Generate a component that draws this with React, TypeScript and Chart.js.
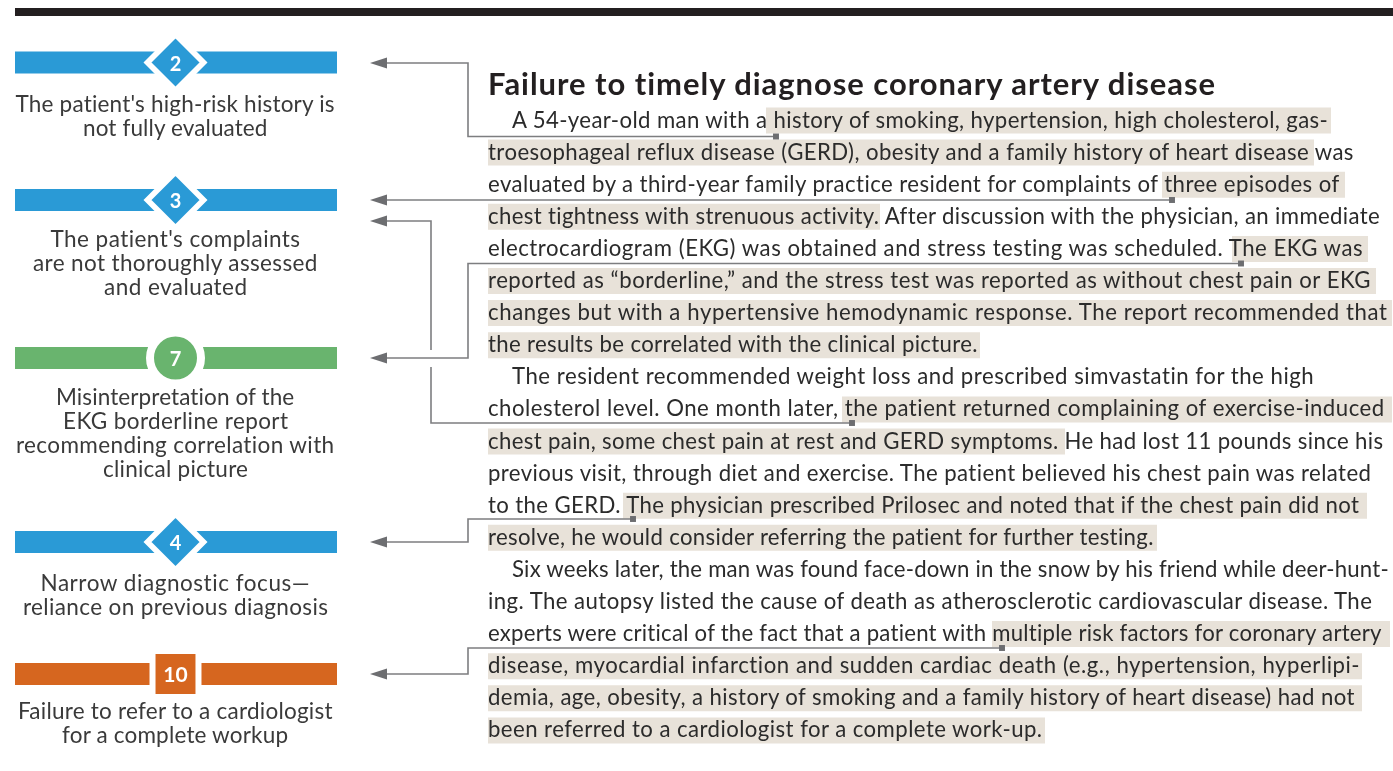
import React, { useEffect, useRef } from 'react';
import { Chart, registerables } from 'chart.js';

Chart.register(...registerables);

const W = 1393;
const H = 771;

// ---------- data ----------
const badgeNumbers = ['2', '3', '7', '4', '10'];
const badgeShapes = ['rectRot', 'rectRot', 'circle', 'rectRot', 'rect'];
const badgeColors = ['#2a9ad6', '#2a9ad6', '#69b46e', '#2a9ad6', '#d6661f'];
const badgeRows = [62.5, 200, 358, 542, 674];
const badgeLabels = [
  ["The patient's high-risk history is", 'not fully evaluated'],
  ["The patient's complaints", 'are not thoroughly assessed', 'and evaluated'],
  ['Misinterpretation of the', 'EKG borderline report', 'recommending correlation with', 'clinical picture'],
  ['Narrow diagnostic focus\u2014', 'reliance on previous diagnosis'],
  ['Failure to refer to a cardiologist', 'for a complete workup'],
];

const title = 'Failure to timely diagnose coronary artery disease';
const bodyLines = [
  'A 54-year-old man with a history of smoking, hypertension, high cholesterol, gas-',
  'troesophageal reflux disease (GERD), obesity and a family history of heart disease was',
  'evaluated by a third-year family practice resident for complaints of three episodes of',
  'chest tightness with strenuous activity. After discussion with the physician, an immediate',
  'electrocardiogram (EKG) was obtained and stress testing was scheduled. The EKG was',
  'reported as \u201cborderline,\u201d and the stress test was reported as without chest pain or EKG',
  'changes but with a hypertensive hemodynamic response. The report recommended that',
  'the results be correlated with the clinical picture.',
  'The resident recommended weight loss and prescribed simvastatin for the high',
  'cholesterol level. One month later, the patient returned complaining of exercise-induced',
  'chest pain, some chest pain at rest and GERD symptoms. He had lost 11 pounds since his',
  'previous visit, through diet and exercise. The patient believed his chest pain was related',
  'to the GERD. The physician prescribed Prilosec and noted that if the chest pain did not',
  'resolve, he would consider referring the patient for further testing.',
  'Six weeks later, the man was found face-down in the snow by his friend while deer-hunt-',
  'ing. The autopsy listed the cause of death as atherosclerotic cardiovascular disease. The',
  'experts were critical of the fact that a patient with multiple risk factors for coronary artery',
  'disease, myocardial infarction and sudden cardiac death (e.g., hypertension, hyperlipi-',
  'demia, age, obesity, a history of smoking and a family history of heart disease) had not',
  'been referred to a cardiologist for a complete work-up.',
];
const paragraphStarts = [0, 8, 14];

// highlighted passages: [body line, start x, end x]
const highlights: number[][] = [
  [0, 766, 1331],
  [1, 488, 1314],
  [2, 1162, 1345],
  [3, 488, 880],
  [4, 1232, 1368],
  [5, 488, 1376],
  [6, 488, 1392],
  [7, 488, 980],
  [9, 842, 1392],
  [10, 488, 1065],
  [12, 623, 1367],
  [13, 488, 1157],
  [16, 992, 1390],
  [17, 488, 1362],
  [18, 488, 1362],
  [19, 488, 1045],
];

// connector paths from highlighted passage to badge row
const connectorPaths: number[][][] = [
  [[776, 136.5], [468, 136.5], [468, 63], [381, 63]],
  [[1172, 200], [381, 200]],
  [[431, 350], [431, 221], [381, 221]],
  [[852, 423], [431, 423], [431, 367]],
  [[1241, 263.5], [468, 263.5], [468, 358], [381, 358]],
  [[633, 519], [468, 519], [468, 542], [381, 542]],
  [[1002, 648], [468, 648], [468, 674], [381, 674]],
];
const arrowRows = [63, 200, 221, 358, 542, 674];
const markerPoints: number[][] = [
  [776, 136.5], [1172, 200], [852, 423], [1241, 263.5], [633, 519], [1002, 648],
];

// ---------- layout ----------
const BADGE_X = 175.5;
const BAR_X0 = 15;
const BAR_X1 = 337;
const BODY_X = 488;
const INDENT_X = 512;
const BODY_BASE0 = 127.5;
const BODY_STEP = 32.1;
const HL_OFFSET = -7;
const TITLE_BASE = 95;
const bodyLineEnds = [1330, 1356, 1342, 1382, 1365, 1372, 1388, 978, 1315, 1385, 1383, 1373, 1360, 1156, 1391, 1375, 1385, 1360, 1357, 1043];
const labelBase0 = [112, 247, 405, 591, 719];
const labelWidths = [
  [320, 185],
  [250, 285, 143],
  [239, 225, 319, 145],
  [270, 305],
  [315, 227],
];
const shapeStyle: Record<string, { r: number; bw: number }> = {
  rectRot: { r: 28, bw: 5.7 },
  circle: { r: 25.5, bw: 8 },
  rect: { r: 32.5, bw: 6 },
};

const FAMILY = 'Lato';
const FONT = 'Lato, "Open Sans", sans-serif';

let measureCtx: CanvasRenderingContext2D | null = null;
function ctx2d(): CanvasRenderingContext2D {
  if (!measureCtx) measureCtx = document.createElement('canvas').getContext('2d');
  return measureCtx!;
}
function measure(text: string, weight: number, size: number): number {
  const c = ctx2d();
  c.font = `${weight} ${size}px ${FAMILY}`;
  return c.measureText(text).width;
}
function metrics(weight: number, size: number) {
  const c = ctx2d();
  c.font = `${weight} ${size}px ${FAMILY}`;
  const m = c.measureText('Hg');
  const asc = (m as any).fontBoundingBoxAscent ?? size * 0.987;
  const desc = (m as any).fontBoundingBoxDescent ?? size * 0.213;
  return { asc, desc };
}
// font size for a block, so that average letter-spacing stays small
function blockSize(lines: string[], widths: number[], weight: number, base: number, blend: number): number {
  let nat = 0;
  let tgt = 0;
  lines.forEach((t, i) => {
    nat += measure(t, weight, base);
    tgt += widths[i];
  });
  const ratio = tgt / nat;
  return base * (1 + (ratio - 1) * blend);
}

function FitLine(props: {
  text: string; x: number; baseline: number; width: number; size: number;
  weight: number; color: string; align?: 'left' | 'center';
}) {
  const { text, x, baseline, width, size, weight, color, align } = props;
  const nat = measure(text, weight, size);
  const n = Array.from(text).length;
  const ls = n > 1 ? (width - nat) / (n - 1) : 0;
  const left = align === 'center' ? x - width / 2 : x;
  const { asc, desc } = metrics(weight, size);
  return (
    <div
      style={{
        position: 'absolute',
        left,
        top: baseline - asc,
        fontFamily: FONT,
        fontWeight: weight,
        fontSize: size,
        lineHeight: `${asc + desc}px`,
        letterSpacing: `${ls}px`,
        whiteSpace: 'pre',
        color,
      }}
    >
      {text}
    </div>
  );
}

function makeArrowHead(): HTMLCanvasElement {
  const c = document.createElement('canvas');
  c.width = 17;
  c.height = 12;
  const ctx = c.getContext('2d')!;
  ctx.fillStyle = '#6d6e71';
  ctx.beginPath();
  ctx.moveTo(0, 6);
  ctx.lineTo(17, 0.5);
  ctx.lineTo(17, 11.5);
  ctx.closePath();
  ctx.fill();
  return c;
}

function InfographicChart() {
  const ref = useRef<HTMLCanvasElement | null>(null);
  useEffect(() => {
    if (!ref.current) return;
    const arrowImg = makeArrowHead();
    const line = (pts: number[][], color: string, width: number, order: number) => ({
      type: 'scatter' as const,
      data: pts.map(([x, y]) => ({ x, y })),
      showLine: true,
      borderColor: color,
      backgroundColor: color,
      borderWidth: width,
      borderCapStyle: 'butt' as const,
      borderJoinStyle: 'miter' as const,
      pointRadius: 0,
      pointHoverRadius: 0,
      tension: 0,
      order,
      clip: false as const,
    });
    const datasets: any[] = [];
    // badges
    datasets.push({
      type: 'scatter',
      data: badgeRows.map((y) => ({ x: BADGE_X, y })),
      pointStyle: badgeShapes,
      pointRadius: badgeShapes.map((s) => shapeStyle[s].r),
      pointHoverRadius: badgeShapes.map((s) => shapeStyle[s].r),
      pointBorderWidth: badgeShapes.map((s) => shapeStyle[s].bw),
      pointBackgroundColor: badgeColors,
      pointBorderColor: '#ffffff',
      order: 0,
      clip: false,
    });
    // colour bars
    badgeRows.forEach((y, i) => {
      datasets.push(line([[BAR_X0, y], [BAR_X1, y]], badgeColors[i], 22, 1));
    });
    // top rule
    datasets.push(line([[15, 12], [W, 12]], '#231f20', 8, 1));
    // arrowheads
    datasets.push({
      type: 'scatter',
      data: arrowRows.map((y) => ({ x: 378.5, y })),
      pointStyle: arrowImg,
      pointRadius: 8,
      order: 2,
      clip: false,
    });
    // end markers
    datasets.push({
      type: 'scatter',
      data: markerPoints.map(([x, y]) => ({ x, y })),
      pointStyle: 'rect',
      pointRadius: 4.2,
      pointBackgroundColor: '#6d6e71',
      pointBorderWidth: 0,
      order: 2,
      clip: false,
    });
    // connectors
    connectorPaths.forEach((p) => datasets.push(line(p, '#7d7e80', 1.6, 3)));
    // highlights
    highlights.forEach(([li, x0, x1]) => {
      const yc = BODY_BASE0 + li * BODY_STEP + HL_OFFSET;
      datasets.push(line([[x0, yc], [x1, yc]], '#e8e2d9', 26, 4));
    });

    const chart = new Chart(ref.current, {
      type: 'scatter',
      data: { datasets },
      options: {
        animation: false,
        responsive: false,
        devicePixelRatio: 1,
        layout: { padding: 0, autoPadding: false },
        events: [],
        plugins: { legend: { display: false }, tooltip: { enabled: false } },
        scales: {
          x: { type: 'linear', min: 0, max: W, display: false },
          y: { type: 'linear', min: 0, max: H, reverse: true, display: false },
        },
      },
    });
    return () => chart.destroy();
  }, []);
  return <canvas ref={ref} width={W} height={H} style={{ position: 'absolute', left: 0, top: 0 }} />;
}

export default function App() {
  const bodyStarts = bodyLines.map((_, i) => (paragraphStarts.includes(i) ? INDENT_X : BODY_X));
  const bodyWidths = bodyLines.map((_, i) => bodyLineEnds[i] - bodyStarts[i]);
  const bodySize = blockSize(bodyLines, bodyWidths, 400, 20, 0.7);
  const labelSize = blockSize(badgeLabels.flat(), labelWidths.flat(), 400, 21, 0.7);
  const titleSize = blockSize([title], [1218 - BODY_X], 700, 26, 0.7);
  return (
    <div
      style={{
        position: 'absolute',
        left: 0,
        top: 0,
        width: W,
        height: H,
        overflow: 'hidden',
        background: '#ffffff',
      }}
    >
      <InfographicChart />
      {badgeNumbers.map((num, i) => (
        <div
          key={'n' + i}
          style={{
            position: 'absolute',
            left: BADGE_X - 30,
            width: 60,
            top: badgeRows[i] - 14,
            height: 28,
            lineHeight: '28px',
            textAlign: 'center',
            fontFamily: FONT,
            fontWeight: 700,
            fontSize: num.length > 1 ? 21 : 20,
            color: '#ffffff',
          }}
        >
          {num}
        </div>
      ))}
      {badgeLabels.map((lines, i) =>
        lines.map((t, j) => (
          <FitLine
            key={`l${i}-${j}`}
            text={t}
            x={BADGE_X}
            baseline={labelBase0[i] + j * 24}
            width={labelWidths[i][j]}
            size={labelSize}
            weight={400}
            color="#3a3a3a"
            align="center"
          />
        ))
      )}
      <FitLine text={title} x={BODY_X} baseline={TITLE_BASE} width={1218 - BODY_X} size={titleSize} weight={700} color="#231f20" />
      {bodyLines.map((t, i) => (
        <FitLine
          key={'b' + i}
          text={t}
          x={bodyStarts[i]}
          baseline={BODY_BASE0 + i * BODY_STEP}
          width={bodyWidths[i]}
          size={bodySize}
          weight={400}
          color="#2b2b2b"
        />
      ))}
    </div>
  );
}
